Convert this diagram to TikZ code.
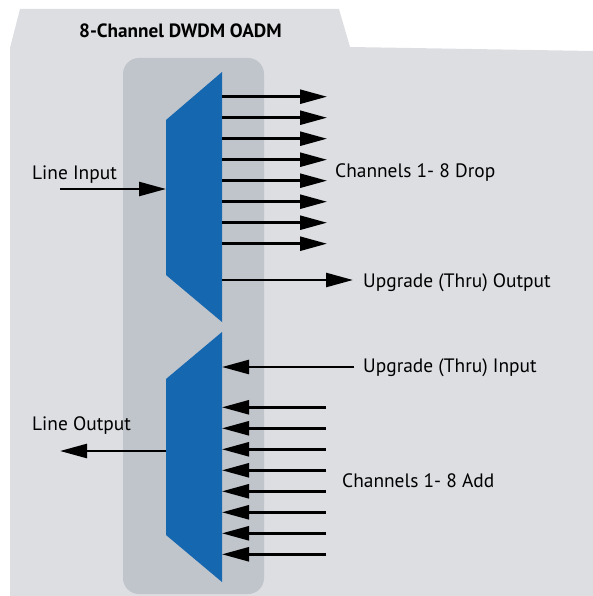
\documentclass[tikz,border=0pt]{standalone}
\usepackage{fontspec}
\setmainfont{PT Sans}
\usepackage{tikz}
\usetikzlibrary{positioning,arrows.meta}

\definecolor{panel}{RGB}{220,222,226}
\definecolor{rack}{RGB}{192,196,203}
\definecolor{filter}{RGB}{21,103,176}

\tikzset{
	sig/.style={line width=2.5pt,-{Triangle[length=27pt,width=14pt]}},
	lbl/.style={anchor=base west,inner sep=0pt,font=\fontsize{19.4}{21}\selectfont},
}

\begin{document}
\begin{tikzpicture}[x=1pt,y=-1pt]
	\useasboundingbox (0,0) rectangle (593,596);
	% folder panel and module slot
	\fill[panel] (20,9) -- (339,9) -- (350,47) -- (593,51) -- (593,596) -- (10,596) -- (10,48) -- cycle;
	\fill[rack,rounded corners=16pt] (123,58) rectangle (264,594);
	% demux (top) and mux (bottom)
	\fill[filter] (222,72) -- (166,120) -- (166,275) -- (222,322) -- cycle;
	\fill[filter] (222,332) -- (166,379) -- (166,535) -- (222,582) -- cycle;
	\node[lbl,font=\fontsize{19.2}{21}\selectfont\bfseries] (title) at (79,37.5) {8-Channel DWDM OADM};
	% line side
	\coordinate (lin) at (60,189);
	\coordinate (dmxin) at (166,189);
	\coordinate (mxout) at (166,451);
	\coordinate (lout) at (60,451);
	\draw[sig] (lin) -- (dmxin);
	\draw[sig] (mxout) -- (lout);
	\node[lbl] (linlbl) at (32,179) {Line Input};
	\node[lbl] (loutlbl) at (32,430) {Line Output};
	% drop and add channels
	\foreach \i in {1,...,8} {
		\coordinate (drop\i) at (222,{75.7+21*\i});
		\coordinate (dropend\i) at (327,{75.7+21*\i});
		\draw[sig] (drop\i) -- (dropend\i);
		\coordinate (add\i) at (326,{386.3+21*\i});
		\coordinate (addend\i) at (222,{386.3+21*\i});
		\draw[sig] (add\i) -- (addend\i);
	}
	\node[lbl] (droplbl) at (335,177) {Channels 1- 8 Drop};
	\node[lbl] (addlbl) at (342,487) {Channels 1- 8 Add};
	% upgrade (thru) ports
	\coordinate (thruout) at (222,280);
	\coordinate (thruoutend) at (353,280);
	\coordinate (thruin) at (354,367);
	\coordinate (thruinend) at (222,367);
	\draw[sig] (thruout) -- (thruoutend);
	\draw[sig] (thruin) -- (thruinend);
	\node[lbl] (thruoutlbl) at (363,287) {Upgrade (Thru) Output};
	\node[lbl] (thruinlbl) at (363,372) {Upgrade (Thru) Input};
\end{tikzpicture}
\end{document}
